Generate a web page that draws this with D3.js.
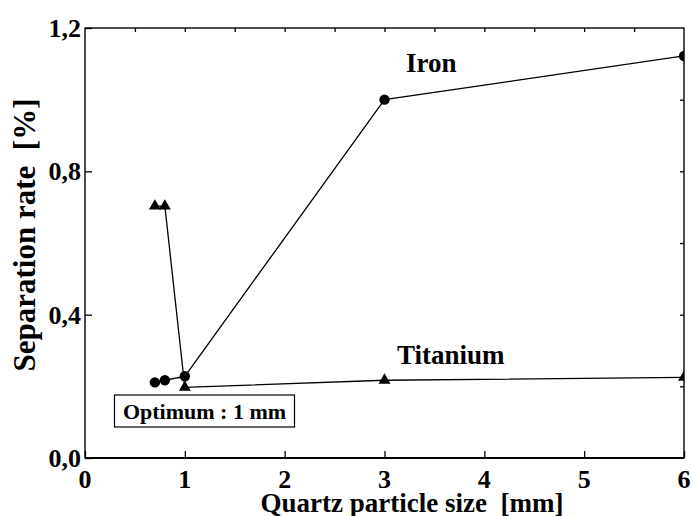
<!DOCTYPE html>
<html>
<head>
<meta charset="utf-8">
<script src="https://cdn.jsdelivr.net/npm/d3@7"></script>
<style>
  body { margin: 0; background: #fff; }
  text { font-family: 'Liberation Serif', Tinos, 'Times New Roman', Times, serif; font-weight: 700; }
</style>
</head>
<body>
<div id="chart"></div>
<script>
// data
const ironSize = [0.7, 0.8, 1, 3, 6]
const ironRate = [0.211, 0.217, 0.228, 1.0, 1.122]
const titaniumSize = [0.7, 0.8, 1, 3, 6]
const titaniumRate = [0.703, 0.703, 0.197, 0.217, 0.225]
const xTicks = [0, 1, 2, 3, 4, 5, 6]
const yTicks = [0, 0.4, 0.8, 1.2]

const width = 692, height = 516
const margin = { top: 28, right: 8, bottom: 58, left: 85 }

const svg = d3.select("#chart").append("svg")
    .attr("width", width)
    .attr("height", height)

const x = d3.scaleLinear().domain([0, 6]).range([margin.left, width - margin.right])
const y = d3.scaleLinear().domain([0, 1.2]).range([height - margin.bottom, margin.top])

const comma = v => d3.format(".1f")(v).replace(".", ",")
const serif = "'Liberation Serif', Tinos, 'Times New Roman', Times, serif"

/**
 * Axes (ticks pointing inward)
 */
const bottom = svg.append("g")
    .attr("transform", `translate(0,${y(0)})`)
bottom.call(d3.axisBottom(x).tickValues(d3.range(0.5, 6, 1)).tickSize(-4).tickFormat(""))
bottom.call(d3.axisBottom(x).tickValues(xTicks).tickSize(-7).tickFormat(""))

const left = svg.append("g")
    .attr("transform", `translate(${x(0)},0)`)
left.call(d3.axisLeft(y).tickValues([0.2, 0.6, 1.0]).tickSize(-4).tickFormat(""))
left.call(d3.axisLeft(y).tickValues(yTicks).tickSize(-7).tickFormat(""))

svg.append("g")
    .attr("transform", `translate(0,${y(1.2)})`)
    .call(d3.axisTop(x).tickValues(d3.range(0.5, 6, 0.5)).tickSize(-4).tickFormat(""))

svg.append("g")
    .attr("transform", `translate(${x(6)},0)`)
    .call(d3.axisRight(y).tickValues(d3.range(0.2, 1.2, 0.2)).tickSize(-4).tickFormat(""))

svg.selectAll(".domain").remove()
svg.selectAll(".tick line").attr("stroke", "#000").attr("stroke-width", 1.3)

// frame
svg.append("rect")
    .attr("x", x(0)).attr("y", y(1.2))
    .attr("width", x(6) - x(0)).attr("height", y(0) - y(1.2))
    .attr("fill", "none").attr("stroke", "#000").attr("stroke-width", 1.4)
svg.append("line")
    .attr("x1", x(0)).attr("x2", x(6)).attr("y1", y(0)).attr("y2", y(0))
    .attr("stroke", "#000").attr("stroke-width", 2)

// tick labels
svg.append("g").selectAll("text")
    .data(xTicks)
    .join("text")
    .attr("x", d => x(d))
    .attr("y", y(0) + 30)
    .attr("text-anchor", "middle")
    .attr("font-family", serif)
    .attr("font-size", 26)
    .text(d => d)

svg.append("g").selectAll("text")
    .data(yTicks)
    .join("text")
    .attr("x", x(0) - 4)
    .attr("y", d => y(d))
    .attr("dy", "0.35em")
    .attr("text-anchor", "end")
    .attr("font-family", serif)
    .attr("font-size", 26)
    .text(d => comma(d))

// axis titles
svg.append("text")
    .attr("x", 412)
    .attr("y", 512)
    .attr("text-anchor", "middle")
    .attr("font-family", serif)
    .attr("font-size", 27)
    .attr("xml:space", "preserve")
    .text("Quartz particle size  [mm]")

svg.append("text")
    .attr("transform", "translate(35,235) rotate(-90)")
    .attr("text-anchor", "middle")
    .attr("font-family", serif)
    .attr("font-size", 31)
    .attr("xml:space", "preserve")
    .text("Separation rate  [%]")

/**
 * Series
 */
svg.append("clipPath").attr("id", "plot")
    .append("rect")
    .attr("x", x(0)).attr("y", y(1.2))
    .attr("width", x(6) - x(0)).attr("height", y(0) - y(1.2))

const plot = svg.append("g").attr("clip-path", "url(#plot)")

const iron = ironSize.map((s, i) => [s, ironRate[i]])
const titanium = titaniumSize.map((s, i) => [s, titaniumRate[i]])
const line = d3.line().x(d => x(d[0])).y(d => y(d[1]))

plot.append("path").datum(iron)
    .attr("d", line).attr("fill", "none").attr("stroke", "#000").attr("stroke-width", 1.3)
plot.append("path").datum(titanium)
    .attr("d", line).attr("fill", "none").attr("stroke", "#000").attr("stroke-width", 1.3)

plot.selectAll("circle")
    .data(iron)
    .join("circle")
    .attr("cx", d => x(d[0]))
    .attr("cy", d => y(d[1]))
    .attr("r", 5.2)
    .attr("fill", "#000")

plot.selectAll(".tri")
    .data(titanium)
    .join("path")
    .attr("class", "tri")
    .attr("transform", d => `translate(${x(d[0])},${y(d[1])})`)
    .attr("d", d3.symbol(d3.symbolTriangle, 62))
    .attr("fill", "#000")

// series labels
svg.append("text")
    .attr("x", 406).attr("y", 72)
    .attr("font-family", serif)
    .attr("font-size", 27)
    .text("Iron")
svg.append("text")
    .attr("x", 397).attr("y", 364)
    .attr("font-family", serif)
    .attr("font-size", 27)
    .text("Titanium")

// annotation box
const note = svg.append("g")
note.append("rect")
    .attr("x", 114.5).attr("y", 395)
    .attr("width", 180).attr("height", 32)
    .attr("fill", "#fff").attr("stroke", "#000").attr("stroke-width", 1.2)
note.append("text")
    .attr("x", 204.5).attr("y", 419)
    .attr("text-anchor", "middle")
    .attr("font-family", serif)
    .attr("font-size", 22)
    .text("Optimum : 1 mm")
</script>
</body>
</html>
